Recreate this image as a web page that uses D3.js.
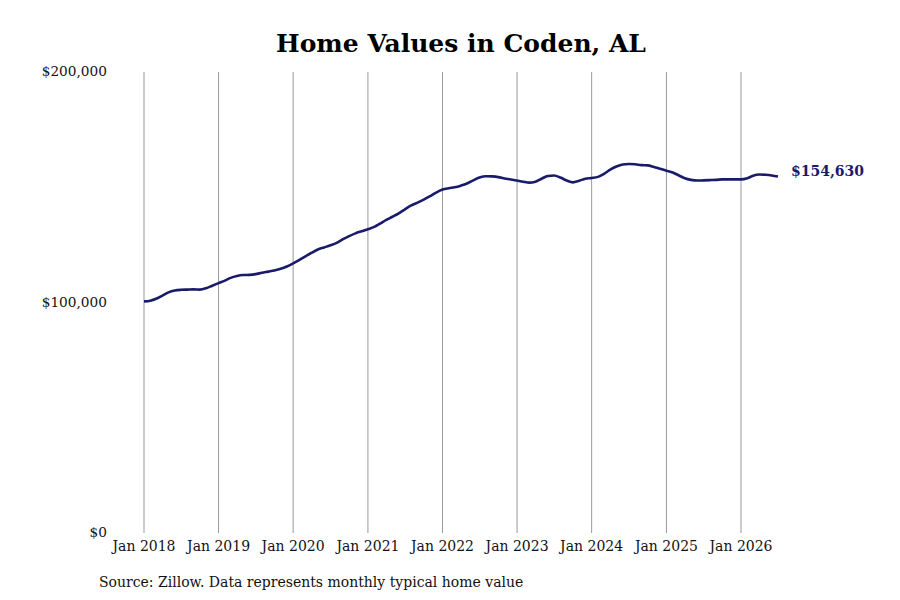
<!DOCTYPE html>
<html>
<head>
<meta charset="utf-8">
<script src="https://cdn.jsdelivr.net/npm/d3@7"></script>
<style>
  body { margin: 0; background: #fff; }
  svg { font-family: "DejaVu Serif", serif; }
</style>
</head>
<body>
<div id="chart"></div>
<script>
// monthly typical home value, Jan 2018 .. Jul 2026 (thousands of dollars)
const startMonth = "2018-01";
const values = [
  100.5, 100.8, 101.6, 103.0, 104.4, 105.2, 105.5, 105.6, 105.7, 105.6, 106.2, 107.3,
  108.4, 109.5, 110.7, 111.5, 111.9, 112.0, 112.3, 112.9, 113.4, 113.9, 114.6, 115.6,
  117.0, 118.5, 120.0, 121.6, 123.0, 123.9, 124.8, 125.9, 127.5, 128.8, 130.0, 130.9,
  131.8, 132.8, 134.2, 135.8, 137.2, 138.7, 140.4, 142.1, 143.3, 144.6, 146.1, 147.7,
  149.0, 149.6, 150.0, 150.7, 151.6, 153.0, 154.2, 154.8, 154.7, 154.4, 153.8, 153.4,
  152.9, 152.4, 152.0, 152.4, 153.7, 154.9, 155.1, 154.2, 152.9, 152.1, 152.8, 153.7,
  154.0, 154.5, 155.8, 157.6, 159.0, 159.9, 160.1, 160.0, 159.6, 159.5, 158.8, 158.0,
  157.2, 156.4, 155.2, 153.9, 153.2, 152.9, 153.0, 153.1, 153.2, 153.4, 153.4, 153.4,
  153.4, 153.9, 155.0, 155.5, 155.4, 155.1, 154.63
];
const yTicks = [0, 100000, 200000];
const xTickYears = [2018, 2019, 2020, 2021, 2022, 2023, 2024, 2025, 2026];
const lastLabel = "$154,630";

const width = 900, height = 600;
const margin = {top: 72, right: 159, bottom: 67, left: 144};

const parseMonth = d3.timeParse("%Y-%m");
const t0 = parseMonth(startMonth);
const data = values.map((v, i) => ({date: d3.timeMonth.offset(t0, i), value: v * 1000}));

const svg = d3.select("#chart").append("svg")
    .attr("width", width)
    .attr("height", height);

// x: Jan 2018 -> Jan 2026 spans the gridlines
const x = d3.scaleTime()
    .domain([new Date(2018, 0, 1), new Date(2026, 0, 1)])
    .range([144, 741]);

const y = d3.scaleLinear()
    .domain([0, 200000])
    .range([height - margin.bottom, margin.top]);

// title
svg.append("text")
    .attr("x", 461)
    .attr("y", 52)
    .attr("text-anchor", "middle")
    .attr("font-size", 25)
    .attr("font-weight", "bold")
    .text("Home Values in Coden, AL");

// vertical gridlines
const xTicks = xTickYears.map(yr => new Date(yr, 0, 1));
svg.append("g")
    .selectAll("line")
    .data(xTicks)
    .enter().append("line")
    .attr("x1", d => x(d))
    .attr("x2", d => x(d))
    .attr("y1", y(200000))
    .attr("y2", y(0))
    .attr("stroke", "#999")
    .attr("stroke-width", 1);

// x tick labels
svg.append("g")
    .selectAll("text")
    .data(xTicks)
    .enter().append("text")
    .attr("x", d => x(d))
    .attr("y", y(0) + 18)
    .attr("text-anchor", "middle")
    .attr("font-size", 14)
    .attr("fill", "#111")
    .text(d3.timeFormat("Jan %Y"));

// y tick labels
svg.append("g")
    .selectAll("text")
    .data(yTicks)
    .enter().append("text")
    .attr("x", 107)
    .attr("y", d => y(d))
    .attr("dy", "0.32em")
    .attr("text-anchor", "end")
    .attr("font-size", 13.7)
    .attr("fill", "#111")
    .text(d => "$" + d3.format(",")(d));

// the line
const line = d3.line()
    .curve(d3.curveMonotoneX)
    .x(d => x(d.date))
    .y(d => y(d.value));

svg.append("path")
    .datum(data)
    .attr("fill", "none")
    .attr("stroke", "#1a1a6b")
    .attr("stroke-width", 2.6)
    .attr("stroke-linejoin", "round")
    .attr("d", line);

// end label
const last = data[data.length - 1];
svg.append("text")
    .attr("x", x(last.date) + 13)
    .attr("y", y(last.value) - 5)
    .attr("dy", "0.32em")
    .attr("font-size", 14)
    .attr("font-weight", "bold")
    .attr("fill", "#1a1a6b")
    .text(lastLabel);

// source note
svg.append("text")
    .attr("x", 99)
    .attr("y", 587)
    .attr("font-size", 14)
    .attr("fill", "#111")
    .text("Source: Zillow. Data represents monthly typical home value");
</script>
</body>
</html>
